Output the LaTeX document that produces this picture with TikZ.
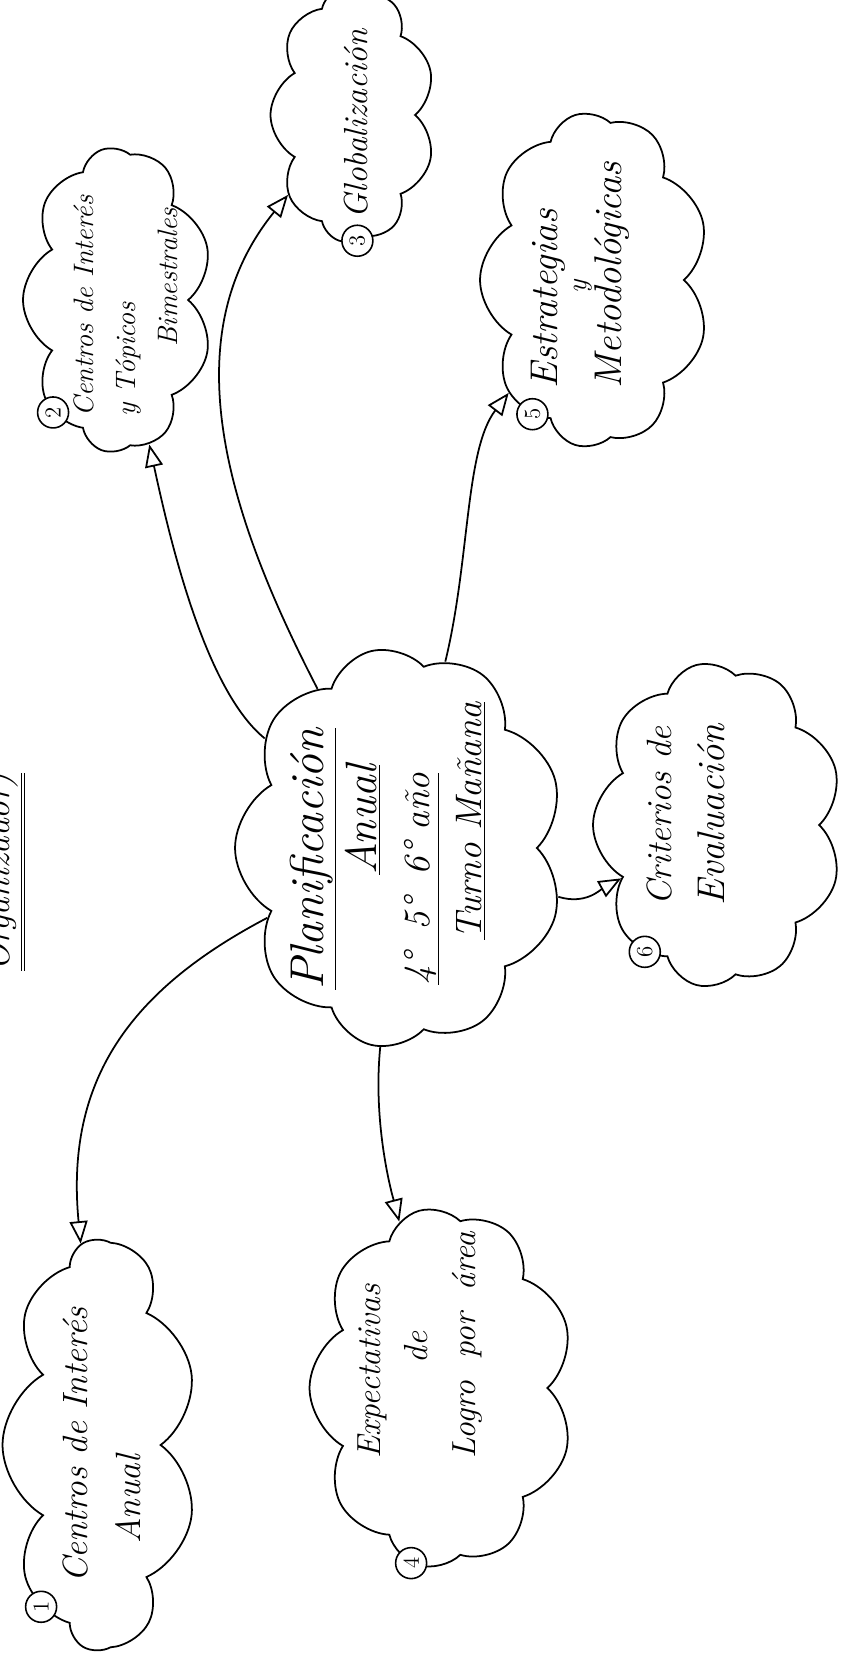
\documentclass[tikz,border=0pt]{standalone}
\usetikzlibrary{shapes.symbols,arrows.meta}
\def \Across {0.02cm}
\tikzstyle{idea}=[
  draw=black,
  cloud,
  cloud puffs=9,
  cloud puff arc=120,
  cloud ignores aspect,
  line width=1pt,
  inner sep=0pt,
  rotate=90
]
\tikzstyle{words}=[
  rotate=90,
  align=left,
  inner sep=0pt,
  font=\itshape\fontsize{19}{27}\selectfont
]
\tikzstyle{num}=[
  draw=black,
  circle,
  fill=white,
  line width=0.9pt,
  inner sep=0pt,
  minimum size=0.62cm,
  rotate=90,
  font=\fontsize{13}{13}\selectfont
]
\tikzstyle{link}=[
  line width=1pt,
  -{Triangle[open,length=0.45cm,width=0.36cm]}
]
\begin{document}
\begin{tikzpicture}[x=\Across, y=-\Across]
          \useasboundingbox (0,0) rectangle (840,1663);
          \clip (0,0) rectangle (840,1663);

          \node[rotate=90, anchor=base, font=\itshape\fontsize{20}{24}\selectfont] (titulo) at (10, 872) {\underline{\underline{Organizador)}}};

          % clouds
          \node[idea, minimum width=8.0cm, minimum height=6.6cm] (plan) at (400, 848) {};
          \node[idea, minimum width=8.2cm, minimum height=3.9cm] (c1) at (100, 1445) {};
          \node[idea, minimum width=6.1cm, minimum height=3.8cm] (c2) at (118, 300) {};
          \node[idea, minimum width=5.1cm, minimum height=3.3cm] (c3) at (353, 115) {};
          \node[idea, minimum width=7.2cm, minimum height=5.3cm] (c4) at (442, 1388) {};
          \node[idea, minimum width=6.7cm, minimum height=4.6cm] (c5) at (595, 280) {};
          \node[idea, minimum width=6.5cm, minimum height=5.0cm] (c6) at (718, 825) {};

          % texts
          \node[words, font=\itshape\fontsize{21}{30}\selectfont] (tplan) at (388, 846)
            {{\fontsize{27}{30}\selectfont\underline{Planificación}}\\\hspace*{2.3cm}{\fontsize{25}{30}\selectfont\underline{Anual}}\\
             \hspace*{0.1cm}\underline{4°\hspace{0.45cm}5°\hspace{0.45cm}6° año}\\\hspace*{1.0cm}\underline{Turno Mañana}};
          \node[words, font=\itshape\fontsize{20}{30}\selectfont] (t1) at (102, 1445) {Centros de Interés\\\hspace*{0.8cm}Anual};
          \node[words, font=\itshape\fontsize{16}{24}\selectfont] (t2) at (126, 306)
            {Centros de Interés\\y Tópicos\\\hspace*{1.4cm}Bimestrales};
          \node[words] (t3) at (356, 124) {Globalización};
          \node[words] (t4) at (420, 1345) {Expectativas\\\hspace*{1.9cm}de\\Logro\hspace{0.45cm}por\hspace{0.45cm}área};
          \node[words, font=\itshape\fontsize{22}{17}\selectfont] (t5) at (580, 275)
            {Estrategias\\\hspace*{1.9cm}{\fontsize{16}{17}\selectfont y}\\Metodológicas};
          \node[words, font=\itshape\fontsize{20}{30}\selectfont] (t6) at (686, 815)
            {Criterios de\\{\fontsize{22}{30}\selectfont Evaluación}};

          % numbers
          \node[num] (n1) at (c1.160) {1};
          \node[num] (n2) at (c2.150) {2};
          \node[num] (n3) at (c3.182) {3};
          \node[num] (n4) at (c4.170) {4};
          \node[num] (n5) at (c5.155) {5};
          \node[num] (n6) at (c6.150) {6};

          \draw[link] (plan) .. controls (130, 990) and (65, 1080) .. (c1);
          \draw[link] (plan) .. controls (205, 690) and (170, 540) .. (c2);
          \draw[link] (plan) .. controls (230, 520) and (170, 340) .. (c3);
          \draw[link] (plan) .. controls (372, 1130) and (395, 1205) .. (c4);
          \draw[link] (plan) .. controls (470, 560) and (465, 450) .. (c5);
          \draw[link] (plan) .. controls (585, 905) and (600, 890) .. (c6);
        \end{tikzpicture}
\end{document}
